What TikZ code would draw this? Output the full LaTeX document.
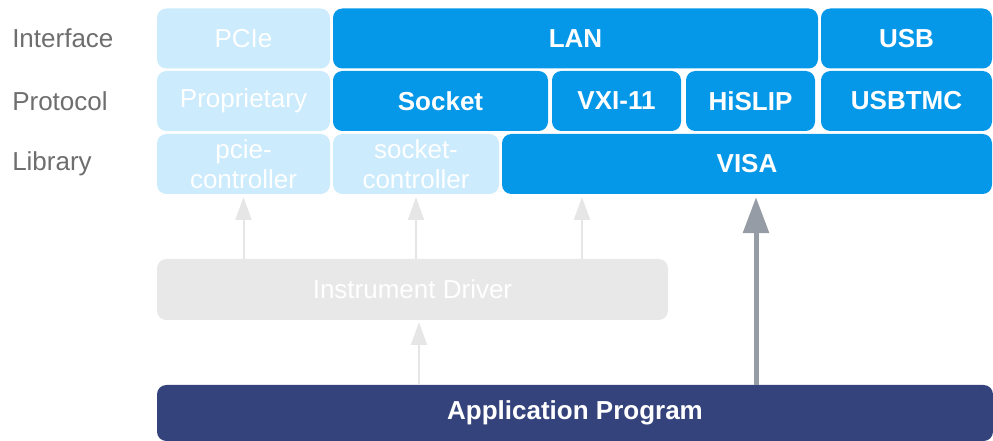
\documentclass[tikz,border=0pt]{standalone}
\usepackage{fontspec}
\setmainfont{Liberation Sans}
\usepackage{tikz}
\usetikzlibrary{arrows.meta,calc,positioning}
\definecolor{VisaBlue}{HTML}{0597E8}
\definecolor{PaleBlue}{HTML}{CCEBFC}
\definecolor{AppNavy}{HTML}{34437B}
\definecolor{DrvGray}{HTML}{E8E8E8}
\definecolor{LiteArrow}{HTML}{E6E6E6}
\definecolor{DarkArrow}{HTML}{959CA5}
\definecolor{LabelGray}{HTML}{6E6E6E}

\begin{document}
\begin{tikzpicture}[x=.75pt,y=-.75pt,
 every node/.style={font=\fontsize{19.5}{22.5}\selectfont,inner sep=0pt},
 blk/.style={rectangle,rounded corners=7pt,minimum height=45pt,text=white,align=center},
 act/.style={blk,fill=VisaBlue,font=\fontsize{19.5}{22.5}\selectfont\bfseries},
 pale/.style={blk,fill=PaleBlue},
 rowlbl/.style={anchor=west,text=LabelGray},
 lite/.style={-{Triangle[width=12pt,length=17pt]},line width=1.5pt,draw=LiteArrow},
 main/.style={-{Triangle[width=19pt,length=27pt]},line width=3.75pt,draw=DarkArrow}]
\useasboundingbox (0,0) rectangle (993,441);
% row labels
\node[rowlbl] (lif) at (12,38.5) {Interface};
\node[rowlbl] (lpr) at (12,101) {Protocol};
\node[rowlbl] (llb) at (12,164) {Library};
% interface row
\node[pale,minimum width=129.75pt] (pcie) at (243.5,38.5) {PCIe};
\node[act,minimum width=363.75pt] (lan) at (575.5,38.5) {LAN};
\node[act,minimum width=128.25pt] (usb) at (906.5,38.5) {USB};
% protocol row
\node[pale,minimum width=129.75pt] (prop) at (243.5,101) {Proprietary};
\node[act,minimum width=161.25pt] (sock) at (440.5,101) {Socket};
\node[act,minimum width=96.75pt] (vxi) at (616.5,101) {VXI-11};
\node[act,minimum width=96.75pt] (hislip) at (750.5,101) {HiSLIP};
\node[act,minimum width=128.25pt] (tmc) at (906.5,101) {USBTMC};
% library row
\node[pale,minimum width=129.75pt] (pciec) at (243.5,164) {pcie-\\controller};
\node[pale,minimum width=124.5pt] (sockc) at (416,164) {socket-\\controller};
\node[act,minimum width=367.5pt] (visa) at (747,164) {VISA};
% driver and application
\node[blk,fill=DrvGray,minimum width=383.25pt,minimum height=45.75pt] (drv) at (412.5,289.5) {Instrument Driver};
\node[blk,fill=AppNavy,minimum width=627pt,minimum height=42pt,font=\fontsize{19.5}{22.5}\selectfont\bfseries] (app) at (575,413) {Application Program};
% arrows
\draw[lite,shorten >=2.2pt] (drv.north -| pciec.south) -- (pciec.south);
\draw[lite,shorten >=2.2pt] (drv.north -| sockc.south) -- (sockc.south);
\draw[lite,shorten >=2.2pt] (drv.north -| 582,0) -- (visa.south -| 582,0);
\draw[lite,shorten >=1.5pt] (app.north -| 419,0) -- (drv.south -| 419,0);
\draw[main,shorten >=2.2pt] (app.north -| 756,0) -- (visa.south -| 756,0);
\end{tikzpicture}
\end{document}
